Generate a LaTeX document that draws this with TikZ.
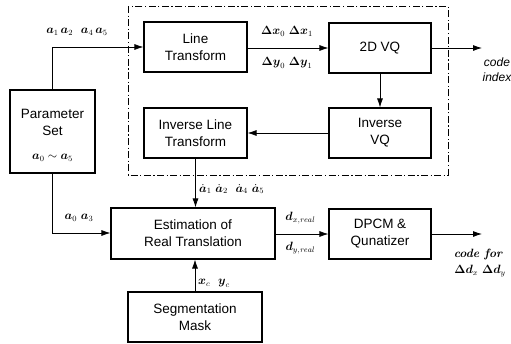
\documentclass[tikz,border=0pt]{standalone}
\usepackage{fontspec}
\usepackage{amsmath,amssymb}
\setsansfont{Liberation Sans}
\usetikzlibrary{arrows.meta}
\begin{document}
\begin{tikzpicture}[x=1pt,y=-1pt,
  blk/.style={draw,line width=1.1pt,inner sep=0pt,font=\sffamily\fontsize{13.5}{17}\selectfont,align=center},
  con/.style={line width=0.8pt,-{Latex[length=9pt,width=6pt]}},
  lab/.style={font=\fontsize{12}{14}\selectfont,inner sep=1pt},
  outtext/.style={font=\fontsize{12}{17}\selectfont\itshape\bfseries,inner sep=0pt,align=center}]
\useasboundingbox (0,0) rectangle (511,343);
\draw[line width=0.8pt,dash pattern=on 7pt off 2.5pt on 1.2pt off 2.5pt] (128,6) rectangle (448,175);
\node[blk,minimum width=103pt,minimum height=50pt] (lt) at (195.5,47) {Line\\Transform};
\node[blk,minimum width=102pt,minimum height=50pt] (vq) at (380,48) {2D VQ};
\node[blk,minimum width=102pt,minimum height=50pt] (ivq) at (380,133) {Inverse\\VQ};
\node[blk,minimum width=103pt,minimum height=50pt] (ilt) at (195.5,133) {Inverse Line\\Transform};
\node[blk,minimum width=85pt,minimum height=83pt] (ps) at (52.5,131.5) {};
\node[font=\sffamily\fontsize{13.5}{17}\selectfont,align=center] (pst) at (52.5,122) {Parameter\\Set};
\node[lab] (psa) at (52.5,158) {$\boldsymbol{a}_0\sim\boldsymbol{a}_5$};
\node[blk,minimum width=164pt,minimum height=51pt] (est) at (193,233.5) {Estimation of\\Real Translation};
\node[blk,minimum width=134pt,minimum height=50pt] (seg) at (195,317) {Segmentation\\Mask};
\node[blk,minimum width=102pt,minimum height=50pt] (dp) at (380,234) {DPCM \&\\Qunatizer};
\coordinate (c1) at (52.5,47);
\coordinate (c2) at (52.5,233);
\coordinate (o1) at (482,48);
\coordinate (o2) at (482,234);
\draw[con] (ps.north) -- (c1) -- (lt.west);
\draw[con] (ps.south) -- (c2) -- (est.west|-c2);
\draw[con] (lt.east|-vq) -- (vq.west);
\draw[con] (vq.east) -- (o1);
\draw[con] (vq.south) -- (ivq.north);
\draw[con] (ivq.west) -- (ilt.east);
\draw[con] (ilt.south) -- (ilt.south|-est.north);
\draw[con] (seg.north) -- (seg.north|-est.south);
\draw[con] (est.east|-dp) -- (dp.west);
\draw[con] (dp.east) -- (o2);
\node[lab] (l1) at (77,32) {$\boldsymbol{a}_1\,\boldsymbol{a}_2\ \ \boldsymbol{a}_4\,\boldsymbol{a}_5$};
\node[lab] (l2) at (287,31) {$\boldsymbol{\Delta x}_0\ \boldsymbol{\Delta x}_1$};
\node[lab] (l3) at (287,63) {$\boldsymbol{\Delta y}_0\ \boldsymbol{\Delta y}_1$};
\node[outtext,font=\sffamily\fontsize{12}{15}\selectfont\itshape] (l4) at (497,70) {code\\index};
\node[lab,anchor=west] (l5) at (198,189) {$\dot{\boldsymbol{a}}_1\ \dot{\boldsymbol{a}}_2\ \ \dot{\boldsymbol{a}}_4\ \dot{\boldsymbol{a}}_5$};
\node[lab] (l6) at (79,218) {$\boldsymbol{a}_0\ \boldsymbol{a}_3$};
\node[lab,anchor=west] (l7) at (197,283) {$\boldsymbol{x}_c\ \ \boldsymbol{y}_c$};
\node[lab] (l8) at (300,218) {$\boldsymbol{d}_{x,\mathit{real}}$};
\node[lab] (l9) at (300,248) {$\boldsymbol{d}_{y,\mathit{real}}$};
\node[outtext] (l10) at (478,254) {code for};
\node[lab] (l11) at (480,271) {$\boldsymbol{\Delta d}_x\ \boldsymbol{\Delta d}_y$};
\end{tikzpicture}
\end{document}
